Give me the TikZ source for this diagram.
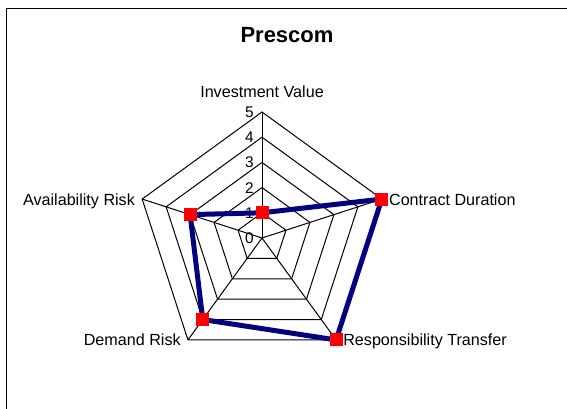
\documentclass[tikz,border=0pt]{standalone}
\usepackage{fontspec}
\setmainfont{Liberation Sans}
\usetikzlibrary{calc}
\definecolor{seriesblue}{RGB}{0,0,128}
\definecolor{markred}{RGB}{255,0,0}

\begin{document}
\begin{tikzpicture}[x=0.75pt,y=0.75pt,yscale=-1,xscale=1,
  grid line/.style={draw=black,line width=0.75pt},
  axis label/.style={inner sep=0pt,font=\fontsize{12.1}{14}\selectfont},
  tick label/.style={inner sep=0pt,anchor=base east,font=\fontsize{11.6}{14}\selectfont},
  series line/.style={draw=seriesblue,line width=3.75pt,line join=miter},
  marker/.style={rectangle,fill=markred,inner sep=0pt,minimum size=9.75pt}]
\useasboundingbox (0,0) rectangle (567,409);

%Chart frame
\draw[line width=1.1pt] (567,8.5) -- (6.5,8.5) -- (6.5,409);

% Title
\node[anchor=base,inner sep=0pt,font=\bfseries\fontsize{16.5}{20}\selectfont] (title) at (287,43) {Prescom};

% Centre and axis points (axis i, level k)
\coordinate (c) at (262,238);
\foreach \i/\a in {1/-90,2/-18,3/54,4/126,5/198}{
  \foreach \k [evaluate=\k as \r using 25.2*\k] in {1,...,5}
    \coordinate (p\i-\k) at ($(c)+(\a:\r)$);
}

% Rings and spokes
\foreach \k in {1,...,5}
  \draw[grid line] (p1-\k) -- (p2-\k) -- (p3-\k) -- (p4-\k) -- (p5-\k) -- cycle;
\foreach \i in {1,...,5}
  \draw[grid line] (c) -- (p\i-5);

% Scale
\node[tick label] (t0) at ($(c)+(-8,5.5)$) {0};
\foreach \k in {1,...,5}
  \node[tick label] (t\k) at ($(p1-\k)+(-8,5.5)$) {\k};

% Category labels
\node[axis label,anchor=base] (invest) at ($(p1-5)+(0,-14)$) {Investment Value};
\node[axis label,anchor=base west] (contract) at ($(p2-5)+(7,6)$) {Contract Duration};
\node[axis label,anchor=base west] (transfer) at ($(p3-5)+(7,6)$) {Responsibility Transfer};
\node[axis label,anchor=base east] (demand) at ($(p4-5)+(-7,6)$) {Demand Risk};
\node[axis label,anchor=base east] (avail) at ($(p5-5)+(-7,6)$) {Availability Risk};

% Series
\draw[series line] (p1-1) -- (p2-5) -- (p3-5) -- (p4-4) -- (p5-3) -- cycle;
\node[marker] (m1) at (p1-1) {};
\node[marker] (m2) at (p2-5) {};
\node[marker] (m3) at (p3-5) {};
\node[marker] (m4) at (p4-4) {};
\node[marker] (m5) at (p5-3) {};

\end{tikzpicture}
\end{document}
